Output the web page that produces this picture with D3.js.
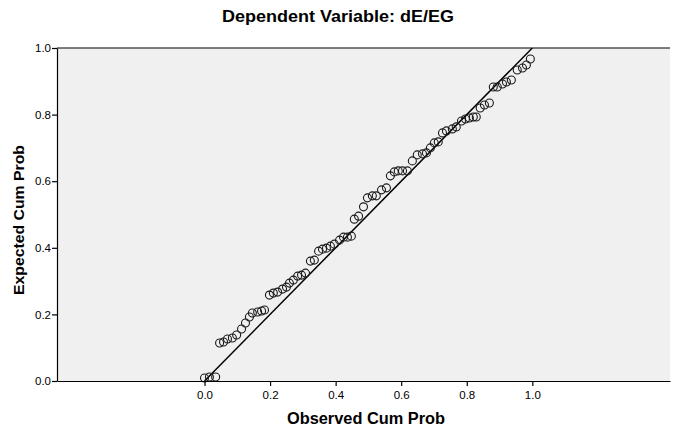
<!DOCTYPE html>
<html>
<head>
<meta charset="utf-8">
<script src="https://cdn.jsdelivr.net/npm/d3@7"></script>
<style>
	body { margin: 0; background: #fff; }
	text { font-family: "Liberation Sans", Arial, sans-serif; }
</style>
</head>
<body>
<svg id="chart" width="675" height="430"></svg>
<script>
// observed cumulative probability (x) and expected cumulative probability (y)
let observed = [
	0.000, 0.015, 0.034, 0.046, 0.058, 0.070, 0.085, 0.098, 0.113, 0.125,
	0.137, 0.146, 0.162, 0.174, 0.183, 0.198, 0.210, 0.223, 0.238, 0.250,
	0.259, 0.271, 0.284, 0.296, 0.308, 0.323, 0.335, 0.348, 0.360, 0.372,
	0.384, 0.396, 0.412, 0.424, 0.436, 0.448, 0.457, 0.470, 0.485, 0.497,
	0.512, 0.524, 0.540, 0.555, 0.567, 0.579, 0.591, 0.604, 0.619, 0.634,
	0.649, 0.665, 0.677, 0.689, 0.701, 0.713, 0.726, 0.738, 0.756, 0.768,
	0.784, 0.796, 0.808, 0.820, 0.829, 0.841, 0.854, 0.869, 0.881, 0.893,
	0.909, 0.921, 0.936, 0.954, 0.970, 0.982, 0.994
];
let expected = [
	0.009, 0.012, 0.012, 0.114, 0.117, 0.126, 0.129, 0.138, 0.156, 0.174,
	0.192, 0.204, 0.207, 0.210, 0.213, 0.258, 0.264, 0.267, 0.276, 0.282,
	0.294, 0.303, 0.315, 0.318, 0.324, 0.360, 0.363, 0.390, 0.396, 0.399,
	0.405, 0.411, 0.423, 0.432, 0.432, 0.435, 0.486, 0.495, 0.523, 0.550,
	0.556, 0.556, 0.574, 0.580, 0.616, 0.628, 0.631, 0.631, 0.631, 0.661,
	0.679, 0.682, 0.685, 0.700, 0.715, 0.718, 0.745, 0.751, 0.757, 0.763,
	0.781, 0.787, 0.790, 0.793, 0.793, 0.820, 0.829, 0.835, 0.883, 0.883,
	0.892, 0.898, 0.904, 0.934, 0.940, 0.949, 0.967
];
let tickValues = [0, 0.2, 0.4, 0.6, 0.8, 1.0];
let refLine = [0, 1];

let title = 'Dependent Variable: dE/EG';
let xTitle = 'Observed Cum Prob';
let yTitle = 'Expected Cum Prob';

let data = observed.map((d, i) => ({ x: d, y: expected[i] }));

let svg = d3.select('#chart');

let plotLeft = 57;
let plotRight = 670;
let plotTop = 48;
let plotBottom = 381;

let x = d3
	.scaleLinear()
	.domain([-0.45, 1.42])
	.range([plotLeft, plotRight]);

let y = d3
	.scaleLinear()
	.domain([0, 1])
	.range([plotBottom, plotTop]);

// plot background
svg
	.append('rect')
	.attr('x', plotLeft)
	.attr('y', plotTop)
	.attr('width', plotRight - plotLeft)
	.attr('height', plotBottom - plotTop)
	.attr('fill', '#f0f0f0');

svg
	.append('line')
	.attr('x1', plotLeft)
	.attr('x2', plotRight)
	.attr('y1', plotTop)
	.attr('y2', plotTop)
	.attr('stroke', '#000')
	.attr('stroke-width', 1.2);

svg
	.append('clipPath')
	.attr('id', 'clip')
	.append('rect')
	.attr('x', plotLeft)
	.attr('y', plotTop)
	.attr('width', plotRight - plotLeft)
	.attr('height', plotBottom - plotTop);

// diagonal reference line
svg
	.append('line')
	.attr('clip-path', 'url(#clip)')
	.attr('x1', x(refLine[0]))
	.attr('y1', y(refLine[0]))
	.attr('x2', x(refLine[1]))
	.attr('y2', y(refLine[1]))
	.attr('stroke', '#000')
	.attr('stroke-width', 1.5);

svg
	.selectAll('.dot')
	.data(data)
	.enter()
	.append('circle')
	.attr('class', 'dot')
	.attr('r', 4)
	.attr('cx', d => x(d.x))
	.attr('cy', d => y(d.y))
	.attr('fill', 'none')
	.attr('stroke', '#1a1a1a')
	.attr('stroke-width', 1.1);

let xAxis = d3.axisBottom(x)
	.tickValues(tickValues)
	.tickSize(5)
	.tickSizeOuter(0)
	.tickFormat(d3.format('.1f'));

let yAxis = d3.axisLeft(y)
	.tickValues(tickValues)
	.tickSize(5)
	.tickSizeOuter(0)
	.tickFormat(d3.format('.1f'));

let gx = svg
	.append('g')
	.attr('transform', 'translate(0, ' + plotBottom + ')')
	.call(xAxis);

let gy = svg
	.append('g')
	.attr('transform', 'translate(' + plotLeft + ', 0)')
	.call(yAxis);

[gx, gy].forEach(g => {
	g.selectAll('path, line').attr('stroke', '#000').attr('stroke-width', 1.2);
	g.selectAll('text')
		.attr('fill', '#000')
		.style('font-family', '"Liberation Sans", Arial, sans-serif')
		.style('font-size', '11.5px');
});
gx.selectAll('text').attr('dy', '0.9em');
gy.selectAll('text').attr('x', -6);

svg
	.append('text')
	.attr('x', 338)
	.attr('y', 22)
	.attr('text-anchor', 'middle')
	.attr('textLength', 232)
	.attr('lengthAdjust', 'spacingAndGlyphs')
	.style('font-size', '16.5px')
	.style('font-weight', 'bold')
	.text(title);

svg
	.append('text')
	.attr('x', 366)
	.attr('y', 424)
	.attr('text-anchor', 'middle')
	.attr('textLength', 158)
	.attr('lengthAdjust', 'spacingAndGlyphs')
	.style('font-size', '16px')
	.style('font-weight', 'bold')
	.text(xTitle);

svg
	.append('text')
	.attr('transform', 'translate(24, 220) rotate(-90)')
	.attr('text-anchor', 'middle')
	.attr('textLength', 150)
	.attr('lengthAdjust', 'spacingAndGlyphs')
	.style('font-size', '15.5px')
	.style('font-weight', 'bold')
	.text(yTitle);
</script>
</body>
</html>
